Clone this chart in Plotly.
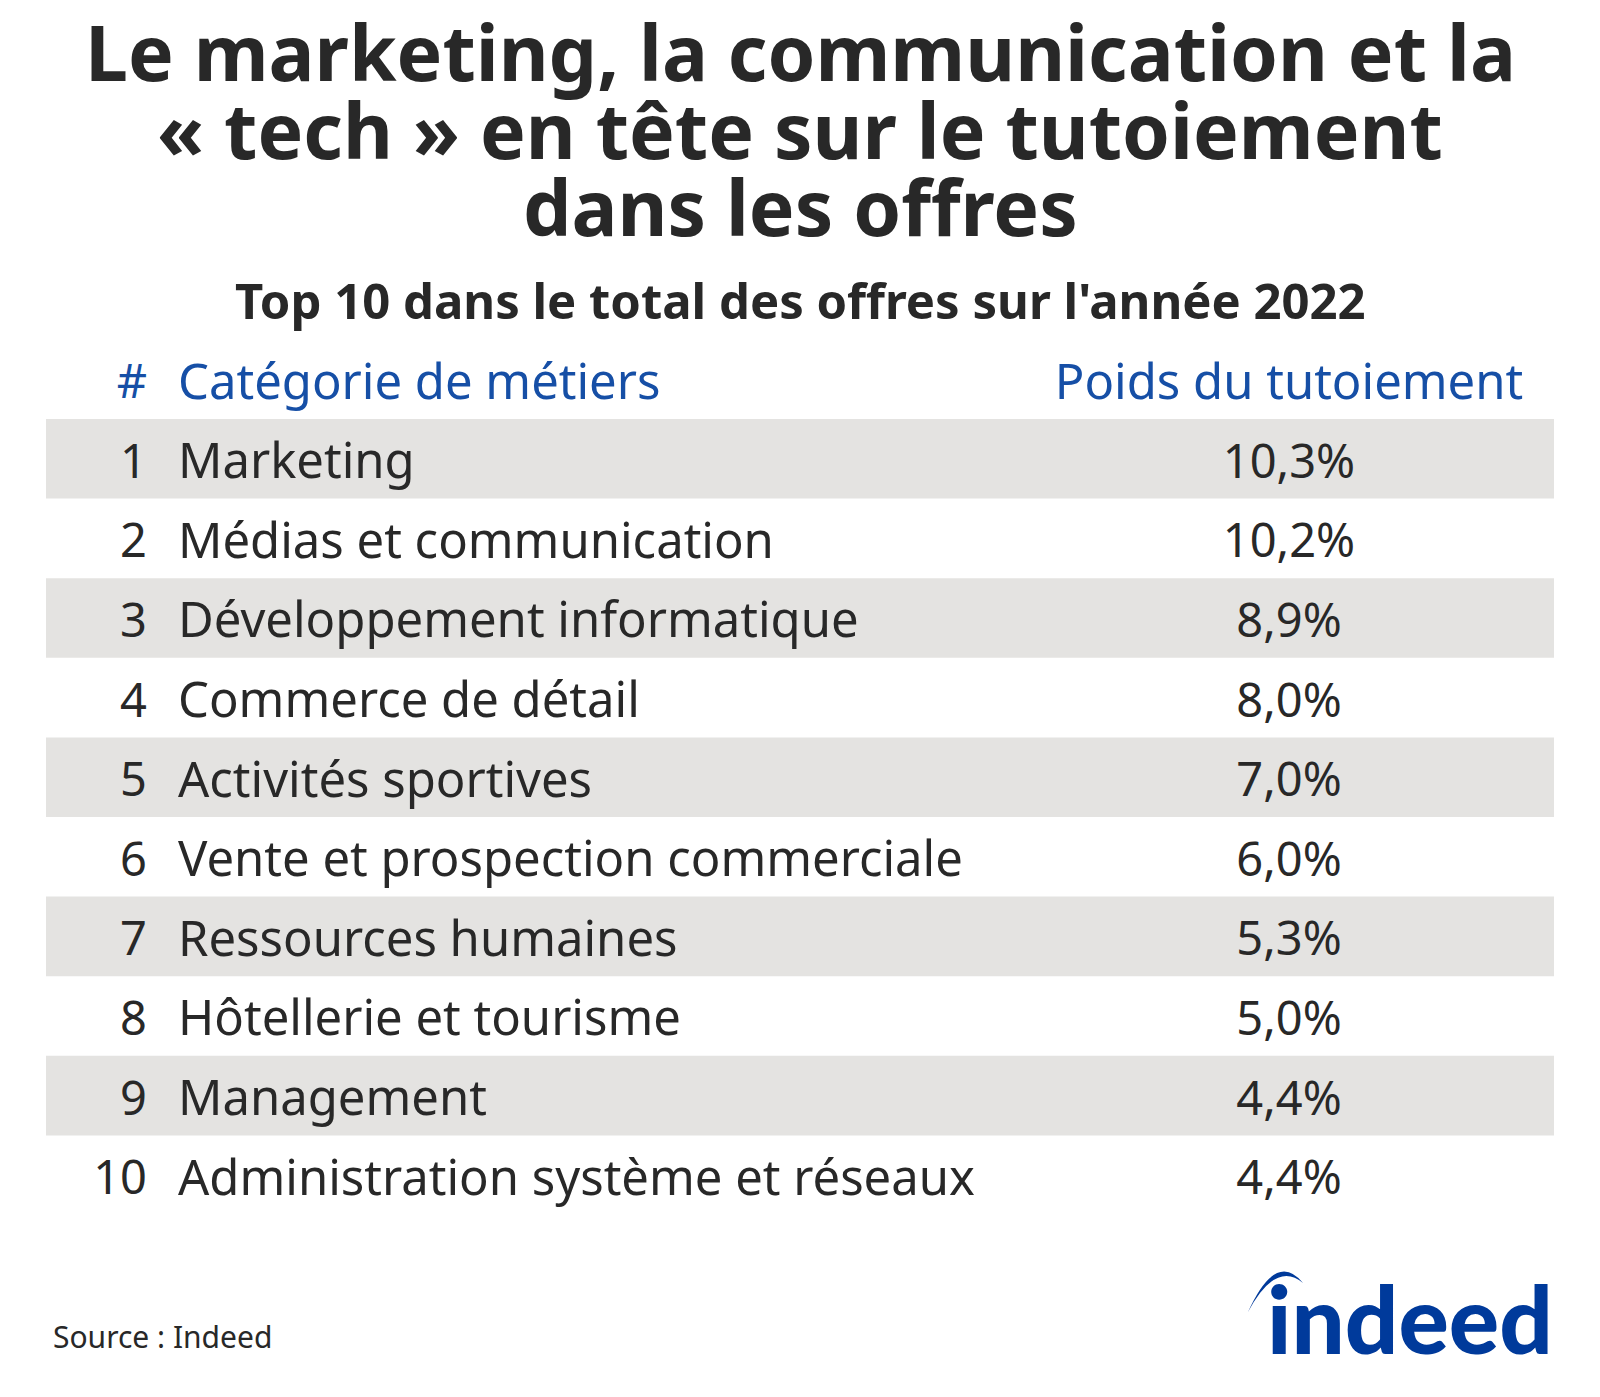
import plotly.graph_objects as go

title_lines = ["Le marketing, la communication et la", "« tech » en tête sur le tutoiement", "dans les offres"]
subtitle = "Top 10 dans le total des offres sur l'année 2022"
headers = ["#", "Catégorie de métiers", "Poids du tutoiement"]
ranks = ["1", "2", "3", "4", "5", "6", "7", "8", "9", "10"]
categories = ["Marketing", "Médias et communication", "Développement informatique", "Commerce de détail",
              "Activités sportives", "Vente et prospection commerciale", "Ressources humaines",
              "Hôtellerie et tourisme", "Management", "Administration système et réseaux"]
shares = ["10,3%", "10,2%", "8,9%", "8,0%", "7,0%", "6,0%", "5,3%", "5,0%", "4,4%", "4,4%"]
source = "Source : Indeed"
logo = "indeed"

W, H = 1600, 1397
DARK, BLUE, BAND, LOGO = "#282828", "#164fa6", "#e4e3e1", "#003a9b"
FONT = "Noto Sans"
ROW_TOP, ROW_H = 419.0, 79.6
TEXT_DY = 7.2
X_LEFT, X_RIGHT, X_RANK, X_CAT, X_SHARE = 46, 1554, 147, 178, 1289
row_y = [ROW_TOP + ROW_H * (i + 0.5) for i in range(len(ranks))]
text_y = [y + TEXT_DY for y in row_y]
head_y = ROW_TOP - ROW_H * 0.5 + TEXT_DY

fig = go.Figure()
band_y = row_y[::2]
fig.add_bar(y=band_y, x=[X_RIGHT - X_LEFT] * len(band_y), base=X_LEFT, orientation="h", width=ROW_H,
            marker=dict(color=BAND, line_width=0), hoverinfo="skip")


def column(xpos, texts, ys, pos, color, size):
    fig.add_scatter(x=[xpos] * len(texts), y=ys, text=texts, mode="text", textposition=pos,
                    textfont=dict(family=FONT, size=size, color=color), hoverinfo="skip")


for xpos, vals, head, pos, size, hsize in [(X_RANK, ranks, headers[0], "middle left", 47, 47),
                                           (X_CAT, categories, headers[1], "middle right", 49, 49),
                                           (X_SHARE, shares, headers[2], "middle center", 47, 49)]:
    column(xpos, vals, text_y, pos, DARK, size)
    column(xpos, [head], [head_y], pos, BLUE, hsize)

for line, y in zip(title_lines, [51, 129, 206]):
    fig.add_annotation(text=line, x=800, y=y, showarrow=False,
                       font=dict(family=FONT, size=76.8, color=DARK, weight="bold"))
fig.add_annotation(text=subtitle, x=800, y=300, showarrow=False,
                   font=dict(family=FONT, size=49, color=DARK, weight="bold"))
fig.add_annotation(text=source, x=51, y=1336, xanchor="left", showarrow=False,
                   font=dict(family=FONT, size=30, color=DARK))
fig.add_annotation(text=logo, x=1410, y=1317, showarrow=False,
                   font=dict(family="Lato", size=94, color=LOGO, weight=900))
fig.add_shape(type="path", xref="x", yref="y", line_width=0, fillcolor=LOGO,
              path="M 1248 1312 Q 1276 1250 1303 1283 Q 1276 1260 1248 1312 Z")

fig.update_layout(width=W, height=H, margin=dict(l=0, r=0, t=0, b=0), paper_bgcolor="#ffffff",
                  plot_bgcolor="rgba(0,0,0,0)", showlegend=False,
                  xaxis=dict(range=[0, W], visible=False), yaxis=dict(range=[H, 0], visible=False))
fig.write_html("out.html", post_script="document.body.style.margin='0';", config=dict(displayModeBar=False))
